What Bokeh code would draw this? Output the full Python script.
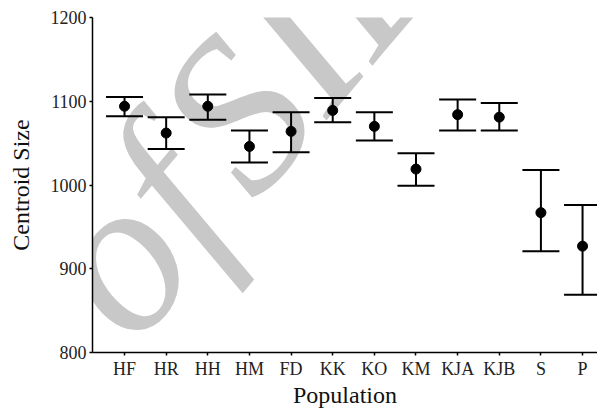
from bokeh.plotting import figure
from bokeh.models import Range1d, FixedTicker, Whisker, TeeHead, ColumnDataSource, Label
from bokeh.embed import file_html
from bokeh.resources import INLINE

categories = ["HF", "HR", "HH", "HM", "FD", "KK", "KO", "KM", "KJA", "KJB", "S", "P"]
means = [1094, 1062, 1094, 1046, 1064, 1089, 1070, 1019, 1084, 1081, 967, 927]
upper = [1105, 1081, 1108, 1065, 1087, 1104, 1087, 1038, 1102, 1098, 1018, 976]
lower = [1082, 1043, 1078, 1027, 1039, 1075, 1053, 999, 1065, 1065, 921, 869]
y_ticks = [800, 900, 1000, 1100, 1200]

xs = list(range(1, len(categories) + 1))
src = ColumnDataSource(dict(x=xs, mean=means, upper=upper, lower=lower))

FONT = "Liberation Serif"

p = figure(width=597, height=413, output_backend="svg", toolbar_location=None,
           x_range=Range1d(0.2308, 12.359), y_range=Range1d(800, 1200),
           min_border_left=92, min_border_top=17, min_border_right=0, min_border_bottom=61)
p.outline_line_color = None
p.xgrid.visible = False
p.ygrid.visible = False
p.background_fill_color = "white"
p.border_fill_color = "white"

# watermark
wm = Label(x=-2.48, y=721, text="e of\u200aSID", angle=50, angle_units="deg",
           text_font=FONT, text_font_size="220px", text_font_style="italic",
           text_baseline="alphabetic", text_align="left",
           text_color="#c8c8c8", level="underlay")
p.add_layout(wm)

wh = Whisker(base="x", upper="upper", lower="lower", source=src,
             line_color="black", line_width=2, level="glyph",
             upper_head=TeeHead(size=37, line_width=2, line_color="black"),
             lower_head=TeeHead(size=37, line_width=2, line_color="black"))
p.add_layout(wh)
p.scatter("x", "mean", source=src, marker="circle", size=10, color="black")

for ax in (p.xaxis[0], p.yaxis[0]):
    ax.axis_line_color = "black"
    ax.axis_line_width = 1.5
    ax.major_tick_line_color = "black"
    ax.major_tick_line_width = 1.5
    ax.major_tick_in = 0
    ax.major_tick_out = 3
    ax.minor_tick_line_color = None
    ax.major_label_text_font = FONT
    ax.major_label_text_font_size = "18px"
    ax.major_label_text_color = "#222222"
    ax.axis_label_text_font = FONT
    ax.axis_label_text_font_size = "24px"
    ax.axis_label_text_font_style = "normal"
    ax.axis_label_text_color = "#111111"

p.xaxis.ticker = FixedTicker(ticks=xs)
p.xaxis.major_label_overrides = {x: c for x, c in zip(xs, categories)}
p.xaxis.axis_label = "Population"
p.xaxis.major_label_standoff = 3
p.xaxis.axis_label_standoff = 0

p.yaxis.ticker = FixedTicker(ticks=y_ticks)
p.yaxis.axis_label = "Centroid Size"
p.yaxis.major_label_standoff = 3
p.yaxis.axis_label_standoff = 14

open("out.html", "w").write(file_html(p, INLINE))
